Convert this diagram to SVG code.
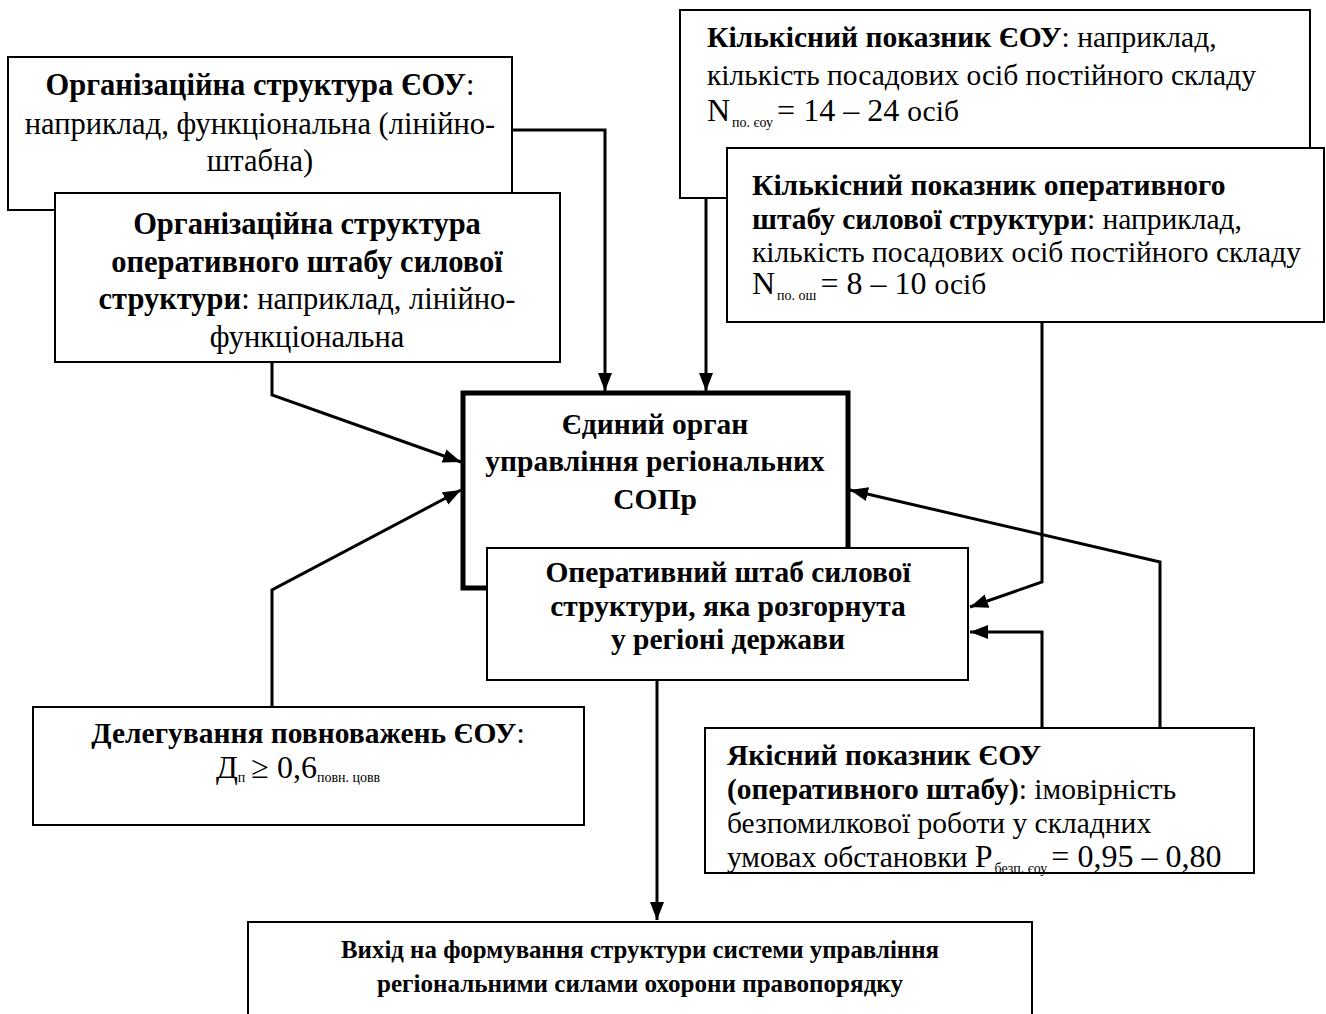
<svg xmlns="http://www.w3.org/2000/svg" width="1326" height="1014" viewBox="0 0 1326 1014">
<style>
  .box{fill:#fff;stroke:#000;stroke-width:2}
  .thick{fill:#fff;stroke:#000;stroke-width:5}
  .t{font-family:"Liberation Serif","Times New Roman",serif;font-size:29.5px;fill:#000}
  .big{font-size:30.5px}
  .b{font-weight:bold}
  .c{text-anchor:middle}
  .sub{font-size:14px}
  .m{font-size:32px}
  .conn{fill:none;stroke:#000;stroke-width:3}
</style>
<defs>
  <marker id="ah" markerUnits="userSpaceOnUse" markerWidth="20" markerHeight="16" refX="18" refY="7" orient="auto">
    <path d="M0,0 L18,7 L0,14 Z" fill="#000"/>
  </marker>
</defs>
<rect width="1326" height="1014" fill="#fff"/>

<g id="nodeA">
  <rect class="box" x="8" y="57" width="504" height="153"/>
  <text class="t big c" x="260" y="95"><tspan class="b">Організаційна структура ЄОУ</tspan>:</text>
  <text class="t big c" x="260" y="134">наприклад, функціональна (лінійно-</text>
  <text class="t big c" x="260" y="171">штабна)</text>
</g>
<g id="nodeB">
  <rect class="box" x="55" y="193" width="505" height="169"/>
  <text class="t big c b" x="307" y="234">Організаційна структура</text>
  <text class="t big c b" x="307" y="272">оперативного штабу силової</text>
  <text class="t big c" x="307" y="309"><tspan class="b">структури</tspan>: наприклад, лінійно-</text>
  <text class="t big c" x="307" y="347">функціональна</text>
</g>
<g id="nodeC">
  <rect class="box" x="680" y="10" width="630" height="188"/>
  <text class="t" x="707" y="47"><tspan class="b">Кількісний показник ЄОУ</tspan>: наприклад,</text>
  <text class="t" x="707" y="85">кількість посадових осіб постійного складу</text>
  <text class="t" x="707" y="121"><tspan class="m">N</tspan><tspan class="sub" dy="6" dx="2">по. єоу</tspan><tspan class="m" dy="-6" dx="4">= 14 – 24</tspan><tspan dx="8">осіб</tspan></text>
</g>
<g id="nodeD">
  <rect class="box" x="727" y="148" width="597" height="174"/>
  <text class="t b" x="752" y="195">Кількісний показник оперативного</text>
  <text class="t" x="752" y="229"><tspan class="b">штабу силової структури</tspan>: наприклад,</text>
  <text class="t" x="752" y="262">кількість посадових осіб постійного складу</text>
  <text class="t" x="752" y="294"><tspan class="m">N</tspan><tspan class="sub" dy="6" dx="2">по. ош</tspan><tspan class="m" dy="-6" dx="4">= 8 – 10</tspan><tspan dx="8">осіб</tspan></text>
</g>
<g id="nodeE">
  <rect class="thick" x="463" y="393" width="385" height="195"/>
  <text class="t c b" x="655" y="434">Єдиний орган</text>
  <text class="t c b" x="655" y="471">управління регіональних</text>
  <text class="t c b" x="655" y="509">СОПр</text>
</g>
<g id="nodeF">
  <rect class="box" x="487" y="548" width="481" height="132"/>
  <text class="t c b" x="728" y="582">Оперативний штаб силової</text>
  <text class="t c b" x="728" y="616">структури, яка розгорнута</text>
  <text class="t c b" x="728" y="649">у регіоні держави</text>
</g>
<g id="nodeG">
  <rect class="box" x="33" y="707" width="551" height="118"/>
  <text class="t c" x="308" y="743"><tspan class="b">Делегування повноважень ЄОУ</tspan>:</text>
  <text class="t" x="216" y="778"><tspan class="m">Д</tspan><tspan class="sub" dy="4">п</tspan><tspan class="m" dy="-4" dx="6">≥ 0,6</tspan><tspan class="sub" dy="4">повн. цовв</tspan></text>
</g>
<g id="nodeH">
  <rect class="box" x="705" y="728" width="549" height="145"/>
  <text class="t b" x="727" y="765">Якісний показник ЄОУ</text>
  <text class="t" x="727" y="799"><tspan class="b">(оперативного штабу)</tspan>: імовірність</text>
  <text class="t" x="727" y="833">безпомилкової роботи у складних</text>
  <text class="t" x="727" y="867">умовах обстановки <tspan class="m">Р</tspan><tspan class="sub" dy="6" dx="2">безп. єоу</tspan><tspan class="m" dy="-6" dx="4">= 0,95 – 0,80</tspan></text>
</g>
<g id="nodeI">
  <rect class="box" x="248" y="922" width="784" height="100"/>
  <text class="t c b" x="640" y="958" style="font-size:26px" textLength="598" lengthAdjust="spacingAndGlyphs">Вихід на формування структури системи управління</text>
  <text class="t c b" x="640" y="992" style="font-size:26px" textLength="526" lengthAdjust="spacingAndGlyphs">регіональними силами охорони правопорядку</text>
</g>

<g id="connectors">
  <polyline class="conn" points="512,130 605,130 605,391" marker-end="url(#ah)"/>
  <polyline class="conn" points="706,198 706,391" marker-end="url(#ah)"/>
  <polyline class="conn" points="272,362 272,395 461,462" marker-end="url(#ah)"/>
  <polyline class="conn" points="272,707 272,590 461,490" marker-end="url(#ah)"/>
  <polyline class="conn" points="1042,322 1042,582 970,607" marker-end="url(#ah)"/>
  <polyline class="conn" points="1042,728 1042,632 970,632" marker-end="url(#ah)"/>
  <polyline class="conn" points="1160,728 1160,562 850,490" marker-end="url(#ah)"/>
  <polyline class="conn" points="657,680 657,920" marker-end="url(#ah)"/>
</g>
</svg>
